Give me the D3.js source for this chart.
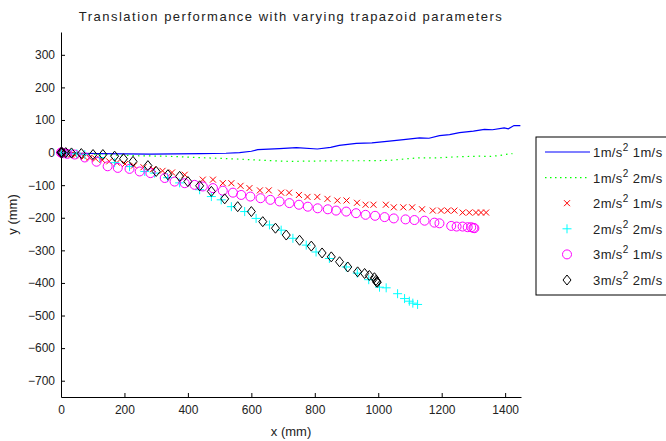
<!DOCTYPE html>
<meta charset="utf-8">
<script src="https://d3js.org/d3.v7.min.js"></script>
<style>
  body { margin: 0; background: #fff; }
  text { font-family: "Liberation Sans", Arial, sans-serif; fill: #222; }
</style>
<div id="chart"></div>
<script>
// values, in mm
var blueLine = [[0,0],[60,-2],[120,-3],[200,-4],[280,-5],[360,-4],[440,-3],[520,-2],[563,0],[600,4],
  [620,9],[689,12],[742,15],[808,11],[850,16],[877,22],[931,28],[980,30],[1035,35],[1080,40],
  [1130,45],[1160,44],[1193,52],[1225,55],[1256,61],[1300,66],[1335,71],[1360,70],[1397,76],
  [1410,73],[1428,83],[1448,83]];

var greenLine = [[0,0],[60,-3],[120,-6],[185,-8],[250,-10],[327,-11],[400,-14],[480,-17],[563,-20],
  [640,-24],[721,-27],[800,-26],[877,-25],[960,-25],[1035,-24],[1090,-19],[1130,-16],[1193,-16],
  [1245,-13],[1318,-11],[1350,-12],[1382,-9],[1413,-4],[1423,-3]];

var redX = [[0,0],[1,0],[4,-1],[8,-2],[14,-3],[22,-4],[32,-6],[44,-8],[58,-10],[73,-13],[90,-16],
  [109,-19],[130,-23],[152,-27],[176,-31],[202,-35],[230,-40],[260,-45],[290,-51],[320,-56],
  [350,-61],[390,-68],[447,-83],[479,-83],[510,-94],[537,-94],[566,-102],[594,-109],[627,-116],
  [655,-116],[694,-123],[719,-123],[750,-130],[777,-136],[808,-136],[840,-142],[871,-147],
  [900,-147],[933,-154],[960,-160],[985,-160],[1024,-160],[1049,-168],[1079,-168],[1107,-168],
  [1138,-174],[1172,-178],[1198,-178],[1219,-178],[1240,-178],[1266,-184],[1287,-184],
  [1308,-184],[1324,-184],[1340,-184]];

var cyanPlus = [[0,0],[2,0],[8,-1],[18,-2],[32,-3],[50,-4],[75,-6],[122,-15],[169,-31],[216,-43],
  [264,-58],[295,-63],[336,-77],[374,-93],[437,-114],[474,-135],[505,-145],[537,-166],[579,-181],
  [615,-202],[657,-222],[694,-238],[731,-263],[773,-284],[804,-305],[846,-325],[899,-351],
  [934,-370],[970,-390],[1004,-413],[1025,-415],[1061,-433],[1083,-448],[1098,-456],[1109,-462],
  [1124,-466]];

var magentaO = [[0,0],[2,0],[8,-2],[20,-4],[43,-6],[75,-15],[112,-28],[147,-42],[179,-47],[216,-50],
  [248,-58],[282,-63],[327,-78],[358,-89],[390,-94],[421,-99],[447,-104],[479,-109],[510,-117],
  [542,-123],[568,-130],[597,-135],[629,-140],[660,-145],[689,-150],[720,-155],[750,-160],
  [778,-166],[809,-171],[841,-174],[867,-178],[899,-181],[930,-186],[960,-191],[990,-194],
  [1020,-198],[1049,-202],[1086,-205],[1114,-207],[1146,-209],[1177,-215],[1193,-217],
  [1230,-225],[1247,-227],[1266,-227],[1282,-229],[1293,-229],[1300,-231],[1303,-232]];

var blackD = [[0,0],[1,1],[4,0],[15,0],[33,-1],[64,-3],[101,-6],[132,-6],[169,-11],[197,-19],
  [227,-27],[274,-40],[300,-58],[337,-68],[374,-73],[400,-89],[437,-102],[474,-119],[516,-142],
  [557,-166],[600,-181],[636,-212],[676,-232],[710,-253],[752,-269],[789,-287],[823,-308],
  [852,-320],[878,-335],[904,-351],[935,-366],[957,-371],[972,-377],[988,-384],[993,-392],
  [995,-397],[997,-398]];

var legendAccel = ["1", "1", "2", "2", "3", "3"];
var legendSpeed = ["1", "2", "1", "2", "1", "2"];
var xTicks = [0, 200, 400, 600, 800, 1000, 1200, 1400];
var yTicks = [300, 200, 100, 0, -100, -200, -300, -400, -500, -600, -700];

// ---------- drawing ----------
var W = 666, H = 441;
var plot = {left: 61, right: 521, top: 32, bottom: 397};

var svg = d3.select("#chart").append("svg")
  .attr("width", W).attr("height", H);

var xs = d3.scaleLinear().domain([0, 1450]).range([plot.left, plot.right]);
var ys = d3.scaleLinear().domain([-750, 370]).range([plot.bottom, plot.top]);

// marker shapes (stroke only, matlab style)
function marker(type) {
  if (type == "x") return "M-3,-3L3,3M3,-3L-3,3";
  if (type == "+") return "M-4.5,0H4.5M0,-4.5V4.5";
  if (type == "o") return "M4.5,0A4.5,4.5 0 1,1 -4.5,0A4.5,4.5 0 1,1 4.5,0Z";
  if (type == "d") return "M0,-5L4,0L0,5L-4,0Z";
}

var series = [
  {data: blueLine, color: "#0000ff", kind: "line"},
  {data: greenLine, color: "#00ff00", kind: "dots"},
  {data: redX, color: "#ff0000", kind: "x"},
  {data: cyanPlus, color: "#00ffff", kind: "+"},
  {data: magentaO, color: "#ff00ff", kind: "o"},
  {data: blackD, color: "#000000", kind: "d"}
];

var line = d3.line().x(function(d) { return xs(d[0]); }).y(function(d) { return ys(d[1]); });

// axes (ticks point inward)
svg.append("g")
  .attr("transform", "translate(0," + plot.bottom + ")")
  .call(d3.axisBottom(xs).tickValues(xTicks).tickFormat(d3.format("d"))
    .tickSizeInner(-4).tickSizeOuter(0).tickPadding(8))
  .call(function(g) {
    g.selectAll("text").style("font-size", "12px").attr("fill", "#222");
    g.select(".domain").attr("stroke", "#000");
  });

svg.append("g")
  .attr("transform", "translate(" + plot.left + ",0)")
  .call(d3.axisLeft(ys).tickValues(yTicks).tickFormat(d3.format("d"))
    .tickSizeInner(-4).tickSizeOuter(0).tickPadding(6))
  .call(function(g) {
    g.selectAll("text").style("font-size", "12px").attr("fill", "#222");
    g.select(".domain").attr("stroke", "#000");
  });

series.forEach(function(s) {
  if (s.kind == "line" || s.kind == "dots") {
    svg.append("path")
      .datum(s.data)
      .attr("d", line)
      .attr("fill", "none")
      .attr("stroke", s.color)
      .attr("stroke-width", 1.2)
      .attr("stroke-dasharray", s.kind == "dots" ? "1.5,4" : null);
  } else {
    svg.append("g").selectAll("path")
      .data(s.data)
      .enter().append("path")
      .attr("transform", function(d) { return "translate(" + xs(d[0]) + "," + ys(d[1]) + ")"; })
      .attr("d", marker(s.kind))
      .attr("fill", "none")
      .attr("stroke", s.color)
      .attr("stroke-width", 1);
  }
});

// title and axis labels
svg.append("text")
  .attr("x", (plot.left + plot.right) / 2).attr("y", 21)
  .style("text-anchor", "middle").style("font-size", "13px").style("letter-spacing", "1.5px")
  .text("Translation performance with varying trapazoid parameters");

svg.append("text")
  .attr("x", (plot.left + plot.right) / 2).attr("y", 436)
  .style("text-anchor", "middle").style("font-size", "13px")
  .text("x (mm)");

svg.append("text")
  .attr("transform", "rotate(-90)")
  .attr("x", -(plot.top + plot.bottom) / 2).attr("y", 17)
  .style("text-anchor", "middle").style("font-size", "13px")
  .text("y (mm)");

// legend
var leg = svg.append("g");
leg.append("rect")
  .attr("x", 536).attr("y", 137).attr("width", 140).attr("height", 158)
  .attr("fill", "#fff").attr("stroke", "#000");

series.forEach(function(s, i) {
  var cy = 152 + i * 25.6;
  if (s.kind == "line" || s.kind == "dots") {
    leg.append("line")
      .attr("x1", 545).attr("x2", 590).attr("y1", cy).attr("y2", cy)
      .attr("stroke", s.color).attr("stroke-width", 1.2)
      .attr("stroke-dasharray", s.kind == "dots" ? "1.5,3.5" : null);
  } else {
    leg.append("path")
      .attr("transform", "translate(567," + cy + ")")
      .attr("d", marker(s.kind))
      .attr("fill", "none").attr("stroke", s.color);
  }
  var t = leg.append("text")
    .attr("x", 593).attr("y", cy + 5)
    .style("font-size", "13px").style("letter-spacing", "0.4px");
  t.append("tspan").text(legendAccel[i] + "m/s");
  t.append("tspan").attr("dy", -6).style("font-size", "10px").text("2");
  t.append("tspan").attr("dy", 6).text(" " + legendSpeed[i] + "m/s");
});
</script>
